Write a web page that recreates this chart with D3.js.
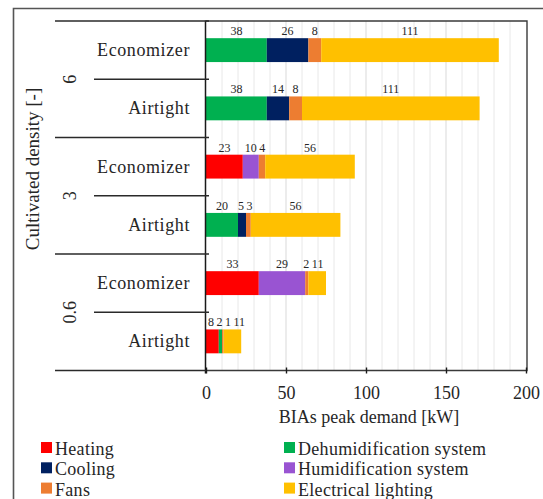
<!DOCTYPE html>
<html>
<head>
<meta charset="utf-8">
<script src="https://cdn.jsdelivr.net/npm/d3@7"></script>
<style>
  html, body { margin: 0; padding: 0; background: #fff; }
  svg { display: block; }
  svg text { font-family: "Liberation Serif", "DejaVu Serif", serif; }
</style>
</head>
<body>
<svg id="chart" width="543" height="499"></svg>
<script>
// Cultivated density groups and ventilation configurations (top to bottom)
const densities = ["6", "3", "0.6"];
const configs = ["Economizer", "Airtight"];

// Series in stacking order
const seriesNames = ["Heating", "Dehumidification system", "Cooling",
                     "Humidification system", "Fans", "Electrical lighting"];
const seriesColors = ["#ff0000", "#00b050", "#002060", "#9954d2", "#ed7d31", "#ffc000"];

// Peak demand [kW] per bar: 6-Eco, 6-Air, 3-Eco, 3-Air, 0.6-Eco, 0.6-Air
const heating    = [0, 0, 23, 0, 33, 8];
const dehumid    = [38, 38, 0, 20, 0, 2];
const cooling    = [26, 14, 0, 5, 0, 0];
const humid      = [0, 0, 10, 0, 29, 0];
const fans       = [8, 8, 4, 3, 2, 1];
const lighting   = [111, 111, 56, 56, 11, 11];

const xTicks = [0, 50, 100, 150, 200];
const axisTitleX = "BIAs peak demand [kW]";
const axisTitleY = "Cultivated density [-]";

const seriesValues = [heating, dehumid, cooling, humid, fans, lighting];

const bars = [];
densities.forEach(d => configs.forEach(c => bars.push({ id: d + "|" + c, density: d, config: c })));
bars.forEach((b, i) => { seriesNames.forEach((s, k) => { b[s] = seriesValues[k][i]; }); });

const FONT = "'Liberation Serif', 'DejaVu Serif', serif";
const svg = d3.select("#chart").attr("font-family", FONT);
const ink = "#262626";

const plot = { left: 206, right: 526, top: 21, bottom: 370.5 };
const x = d3.scaleLinear().domain([0, 200]).range([plot.left, plot.right]);
const y = d3.scaleBand().domain(bars.map(b => b.id)).range([plot.top, plot.bottom]);
const barH = y.bandwidth() * 0.41;

// Outer frame
svg.append("path")
  .attr("d", `M13.5,499 V8.5 H543`)
  .attr("fill", "none").attr("stroke", "#555").attr("stroke-width", 1.6);

// Vertical gridlines
const grid = d3.range(10, 200, 10);
svg.append("g").selectAll("line").data(grid).join("line")
  .attr("x1", d => x(d)).attr("x2", d => x(d))
  .attr("y1", plot.top).attr("y2", plot.bottom)
  .attr("stroke", d => d % 50 === 0 ? "#d9d9d9" : "#e8e8e8").attr("stroke-width", 1);

// Stacked bars
const stack = d3.stack().keys(seriesNames)(bars);
const color = d3.scaleOrdinal().domain(seriesNames).range(seriesColors);

svg.append("g").selectAll("g").data(stack).join("g")
  .attr("fill", s => color(s.key))
  .selectAll("rect").data(s => s.filter(p => p[1] > p[0])).join("rect")
  .attr("x", p => x(p[0]))
  .attr("width", p => x(p[1]) - x(p[0]))
  .attr("y", p => y(p.data.id) + (y.bandwidth() - barH) / 2)
  .attr("height", barH);

// Value labels above each segment, nudged apart where they collide
const labelLayer = svg.append("g").attr("font-size", 12).attr("fill", ink).attr("text-anchor", "middle");
bars.forEach(b => {
  const items = [];
  stack.forEach(s => {
    const p = s.find(q => q.data.id === b.id);
    if (p[1] > p[0]) items.push({ v: p[1] - p[0], cx: (x(p[0]) + x(p[1])) / 2 });
  });
  const base = y(b.id) + (y.bandwidth() - barH) / 2 - 3;
  const texts = items.map(it => {
    const t = labelLayer.append("text").attr("x", it.cx).attr("y", base).text(it.v);
    it.w = t.node().getComputedTextLength();
    it.node = t;
    return it;
  });
  for (let iter = 0; iter < 40; iter++) {
    for (let i = 1; i < texts.length; i++) {
      const a = texts[i - 1], c = texts[i];
      const need = (a.w + c.w) / 2 + 2.5;
      const gap = c.cx - a.cx;
      if (gap < need) {
        const m = (need - gap) / 2;
        a.cx -= m; c.cx += m;
      }
    }
  }
  // keep the first label clear of the axis line
  const overshoot = (plot.left + 2) - (texts[0].cx - texts[0].w / 2);
  if (overshoot > 0) texts.forEach(it => { it.cx += overshoot; });
  texts.forEach(it => it.node.attr("x", it.cx));
});

// Plot border (top, right, bottom)
svg.append("path")
  .attr("d", `M${plot.left},${plot.top} H${plot.right + 1} V${plot.bottom} H${plot.left}`)
  .attr("fill", "none").attr("stroke", "#3a3a3a").attr("stroke-width", 1.4);

// Left axis line
svg.append("line")
  .attr("x1", plot.left - 0.5).attr("x2", plot.left - 0.5)
  .attr("y1", plot.top - 0.5).attr("y2", plot.bottom + 3)
  .attr("stroke", "#1a1a1a").attr("stroke-width", 1.5);

// Category separators: full lines between density groups, shorter lines between configurations
const sep = svg.append("g").attr("stroke", "#2a2a2a").attr("stroke-width", 1.4);
bars.forEach((b, i) => {
  const yy = y(b.id);
  const isGroupEdge = i % 2 === 0;
  sep.append("line").attr("x1", isGroupEdge ? 55 : 94).attr("x2", plot.left + 3)
    .attr("y1", yy).attr("y2", yy);
});
sep.append("line").attr("x1", 55).attr("x2", plot.left).attr("y1", plot.bottom).attr("y2", plot.bottom);

// Configuration labels
svg.append("g").attr("font-size", 18).attr("fill", ink).attr("text-anchor", "end")
  .attr("letter-spacing", 0.6)
  .selectAll("text").data(bars).join("text")
  .attr("x", 190).attr("y", b => y(b.id) + y.bandwidth() / 2 + 6)
  .text(b => b.config);

// Density group labels (rotated)
svg.append("g").attr("font-size", 18).attr("fill", ink).attr("text-anchor", "middle")
  .selectAll("text").data(densities).join("text")
  .attr("transform", d => `translate(76,${y(d + "|" + configs[1])}) rotate(-90)`)
  .text(d => d);

// Y axis title
svg.append("text")
  .attr("transform", `translate(39,${169}) rotate(-90)`)
  .attr("text-anchor", "middle").attr("font-size", 19).attr("fill", ink)
  .text(axisTitleY);

// X axis
const xAxis = svg.append("g").attr("transform", `translate(0,${plot.bottom})`)
  .call(d3.axisBottom(x).tickValues(xTicks).tickSize(3).tickPadding(13).tickFormat(d3.format("d")));
xAxis.attr("font-family", FONT);
xAxis.select(".domain").remove();
xAxis.selectAll(".tick line").attr("y1", -3).attr("stroke", "#1a1a1a").attr("stroke-width", 1.4);
xAxis.selectAll(".tick text").attr("font-size", 18).attr("fill", ink);

svg.append("text")
  .attr("x", (plot.left + plot.right) / 2 + 3).attr("y", 423)
  .attr("text-anchor", "middle").attr("font-size", 18).attr("fill", ink)
  .text(axisTitleX);

// Legend: two columns, three rows
const legend = svg.append("g").attr("font-size", 18).attr("fill", ink);
const colX = [41, 284];
seriesNames.forEach((name, i) => {
  const col = i % 2, row = Math.floor(i / 2);
  const g = legend.append("g").attr("transform", `translate(${colX[col]},${455 + row * 20.3})`);
  g.append("rect").attr("x", 0).attr("y", -13).attr("width", 11).attr("height", 11).attr("fill", seriesColors[i]);
  g.append("text").attr("x", 14).attr("y", 0).attr("letter-spacing", 0.3).text(name);
});
</script>
</body>
</html>
